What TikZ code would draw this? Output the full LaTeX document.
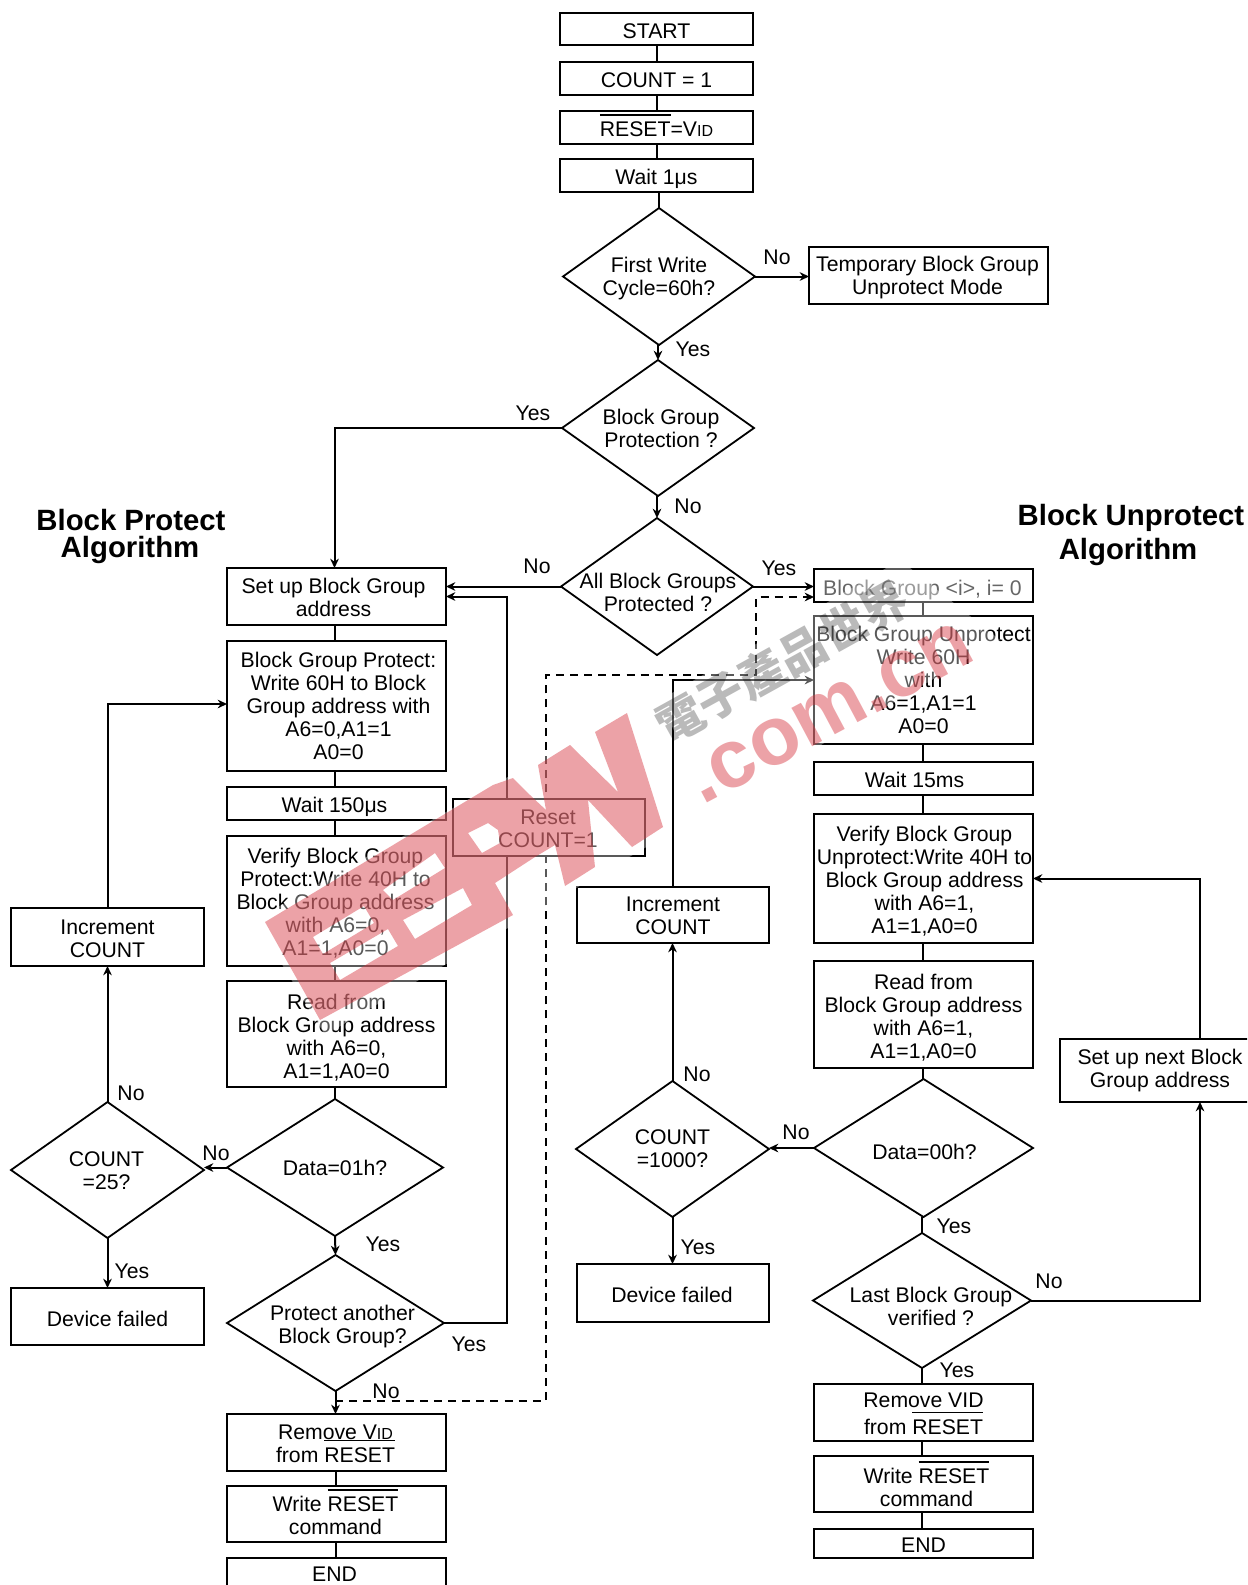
\documentclass[tikz,border=0pt]{standalone}
\usepackage{fontspec}
\setmainfont{Liberation Sans}
\newfontfamily\cjkwm{Noto Sans CJK TC}
\usetikzlibrary{arrows.meta,shapes.geometric}
\definecolor{wmred}{RGB}{215,50,60}
\newcommand\tx[3]{\makebox[0pt][c]{\hspace*{#1\dimexpr1.5pt\relax}\smash{\raisebox{\dimexpr-.44em-#2\dimexpr.75pt\relax\relax}{\begin{tabular}[c]{@{}c@{}}#3\end{tabular}}}}}
\newsavebox\olbox
\newcommand\ol[1]{\sbox\olbox{#1}\smash{\rlap{\rule[15.6pt]{\wd\olbox}{1.1pt}}}#1}
\newcommand\smid{{\fontsize{12}{12}\selectfont ID}}
\newcommand\bx[9][]{\node[boxs,minimum width={(#5-#3)*.75pt},minimum height={(#6-#4)*.75pt},#1] (#2) at ({(#3+#5)/2},{(#4+#6)/2}) {\tx{#7}{#8}{#9}};}
\newcommand\dm[8]{\node[dias,minimum width={(#4-#2)*.75pt},minimum height={(#5-#3)*.75pt}] (#1) at ({(#2+#4)/2},{(#3+#5)/2}) {\tx{#6}{#7}{#8}};}
\tikzset{
  basef/.style={font=\fontsize{15.9}{17.25}\selectfont},
  boxs/.style={basef,draw=black,line width=1.6pt,rectangle,inner sep=0pt,outer sep=0pt,fill=white},
  dias/.style={basef,draw=black,line width=1.35pt,diamond,aspect=1.4,inner sep=0pt,outer sep=0pt},
  lab/.style={basef,inner sep=0pt},
  ttl/.style={font=\fontsize{22}{24}\selectfont\bfseries,inner sep=0pt},
  conn/.style={draw=black,line width=1.5pt},
  arr/.style={conn,-{Stealth[length=7pt,width=6.5pt]}},
  dsh/.style={arr,dash pattern=on 6pt off 4.6pt},
}
\begin{document}
\begin{tikzpicture}[x=.75pt,y=-.75pt]
\path[use as bounding box] (0,0) rectangle (1247,1585);
\clip (0,0) rectangle (1247,1585);
\fill[white] (0,0) rectangle (1247,1585);
% centre column
\bx{start}{560}{13}{753}{45}{0}{1}{START}
\bx{cnt}{560}{62}{753}{95}{0}{1}{COUNT = 1}
\bx{rst}{560}{111}{753}{144}{0}{1}{\ol{RESET}=V\smid}
\bx{waita}{560}{159}{753}{192}{0}{1}{Wait 1μs}
\dm{da}{563}{208}{755}{345}{0}{-1}{First Write\\Cycle=60h?}
\bx{temp}{809}{247}{1048}{304}{-1}{-1}{Temporary Block Group\\Unprotect Mode}
\dm{db}{562}{360}{754}{496}{3}{0}{Block Group\\Protection ?}
\dm{dc}{561}{518}{753}{655}{1}{5}{All Block Groups\\Protected ?}
% left column
\bx{setup}{227}{568}{446}{625}{-3}{0}{Set up Block Group\\address}
\bx{bgp}{227}{641}{446}{771}{2}{-1}{Block Group Protect:\\Write 60H to Block\\Group address with\\A6=0,A1=1\\A0=0}
\bx{waitb}{227}{787}{446}{820}{-2}{1}{Wait 150μs}
\bx{vfy}{227}{836}{446}{966}{-1}{0}{Verify Block Group\\Protect:Write 40H to\\Block Group address\\with A6=0,\\A1=1,A0=0}
\bx{rd}{227}{981}{446}{1087}{0}{2}{Read from\\Block Group address\\with A6=0,\\A1=1,A0=0}
\dm{dd}{227}{1099}{443}{1236}{0}{0}{Data=01h?}
\dm{de}{11}{1102}{204}{1238}{-1}{0}{COUNT\\=25?}
\bx{incl}{11}{908}{204}{966}{0}{1}{Increment\\COUNT}
\bx{devl}{11}{1288}{204}{1345}{0}{2}{Device failed}
\dm{pa}{227}{1255}{444}{1391}{7}{1}{Protect another\\Block Group?}
\bx{rml}{227}{1414}{446}{1471}{-1}{0}{Remove V\smid\\from \ol{RESET}}
\bx{wrl}{227}{1486}{446}{1542}{-1}{1}{Write \ol{RESET}\\command}
\bx{endl}{227}{1558}{446}{1600}{-2}{-6}{END}
% right column
\bx{bgz}{814}{569}{1033}{602}{-1}{2}{\textcolor{black!60}{Block Group <i>, i= 0}}
\bx{bgu}{814}{616}{1033}{744}{0}{-1}{Block Group Unprotect\\Write 60H\\with\\A6=1,A1=1\\A0=0}
\bx{waitc}{814}{762}{1033}{795}{-9}{1}{Wait 15ms}
\bx{vfr}{814}{814}{1033}{943}{1}{1}{Verify Block Group\\Unprotect:Write 40H to\\Block Group address\\with A6=1,\\A1=1,A0=0}
\bx{rdr}{814}{961}{1033}{1068}{0}{1}{Read from\\Block Group address\\with A6=1,\\A1=1,A0=0}
\dm{df}{814}{1079}{1033}{1217}{1}{3}{Data=00h?}
\dm{dg}{576}{1081}{769}{1217}{0}{-1}{COUNT\\=1000?}
\bx{incr}{577}{887}{769}{943}{0}{0}{Increment\\COUNT}
\bx{devr}{577}{1264}{769}{1322}{-1}{1}{Device failed}
\dm{dh}{813}{1233}{1031}{1368}{9}{5}{Last Block Group\\verified ?}
\bx{rmr}{814}{1384}{1033}{1441}{0}{0}{Remove VID\\[3pt]from \ol{RESET}}
\bx{wrr}{814}{1456}{1033}{1512}{3}{3}{Write \ol{RESET}\\command}
\bx{endr}{814}{1529}{1033}{1558}{0}{1}{END}
\bx{snx}{1060}{1039}{1252}{1102}{4}{-3}{Set up next Block\\Group address}
% connectors
\draw[conn] (start) -- (cnt);
\draw[conn] (cnt) -- (rst);
\draw[conn] (rst) -- (waita);
\draw[conn] (waita.south -| da.north) -- (da.north);
\draw[arr] (db.north |- da.south) -- (db.north);
\draw[arr] (dc.north |- db.south) -- (dc.north);
\draw[arr] (da.east) -- (da.east -| temp.west);
\draw[arr] (db.west) -| ([xshift=-1.5pt]setup.north);
\draw[arr] (dc.west) -- (dc.west -| setup.east);
\draw[arr] (dc.east) -- (dc.east -| bgz.west);
\foreach \a/\b in {setup/bgp,bgp/waitb,waitb/vfy,vfy/rd,rd/dd}
  \draw[conn] ([xshift=-1.5pt]\a.south) -- ([xshift=-1.5pt]\a.south |- \b.north);
\draw[arr] (dd.south) -- (pa.north);
\draw[arr] (dd.west) -- (dd.west -| de.east);
\draw[arr] (de.north) -- (incl.south);
\draw[arr] (de.south) -- (devl.north);
\draw[arr] (incl.north) |- ([yshift=1.5pt]bgp.west);
\draw[arr] (pa.south) -- (pa.south |- rml.north);
\draw[conn] (pa.south |- rml.south) -- (pa.south |- wrl.north);
\draw[conn] (pa.south |- wrl.south) -- (pa.south |- endl.north);
\coordinate (lp) at (507,1323);
\draw[arr] (pa.east) -- (lp) |- (setup.east);
\coordinate (dja) at (335,1401);
\coordinate (djb) at (546,1401);
\coordinate (djc) at (546,675);
\coordinate (djd) at (756,675);
\coordinate (dje) at (756,597);
\draw[dsh] (dja) -- (djb) -- (djc) -- (djd) -- (dje) -- (dje -| bgz.west);
\foreach \a/\b in {bgz/bgu,bgu/waitc,waitc/vfr,vfr/rdr,rdr/df}
  \draw[conn] ([xshift=-.7pt]\a.south) -- ([xshift=-.7pt]\a.south |- \b.north);
\draw[conn] (dh.north |- df.south) -- (dh.north);
\draw[arr] (df.west) -- (df.west -| dg.east);
\draw[arr] (dg.north) -- (dg.north |- incr.south);
\draw[arr] (dg.south) -- (dg.south |- devr.north);
\draw[arr] (incr.north -| dg.north) |- (bgu.west);
\draw[conn] (dh.south) -- (dh.south |- rmr.north);
\draw[conn] (dh.south |- rmr.south) -- (dh.south |- wrr.north);
\draw[conn] (dh.south |- wrr.south) -- (dh.south |- endr.north);
\draw[arr] (dh.east) -| ([xshift=33pt]snx.south);
\draw[arr] ([xshift=33pt]snx.north) |- (vfr.east);
\bx{rsb}{453}{799}{645}{856}{-1}{0}{Reset\\COUNT=1}
% labels
\node[lab] (la) at (777,257) {No};
\node[lab] (lb) at (693,349) {Yes};
\node[lab] (lc) at (533,413) {Yes};
\node[lab] (ld) at (688,506) {No};
\node[lab] (le) at (537,566) {No};
\node[lab] (lf) at (779,568) {Yes};
\node[lab] (lg) at (131,1093) {No};
\node[lab] (lh) at (216,1153) {No};
\node[lab] (li) at (383,1244) {Yes};
\node[lab] (lj) at (132,1271) {Yes};
\node[lab] (lk) at (469,1344) {Yes};
\node[lab] (ll) at (386,1391) {No};
\node[lab] (lm) at (697,1074) {No};
\node[lab] (ln) at (796,1132) {No};
\node[lab] (lo) at (698,1247) {Yes};
\node[lab] (lp2) at (954,1226) {Yes};
\node[lab] (lq) at (1049,1281) {No};
\node[lab] (lr) at (957,1370) {Yes};
\node[ttl] (ta) at (131,520) {Block Protect};
\node[ttl] (tb) at (130,550) {Algorithm};
\node[ttl] (tc) at (1131,518) {Block Unprotect};
\node[ttl] (td) at (1128,552) {Algorithm};
% watermark
\fill[white,fill opacity=.35] (255,920) -- (635,705) -- (672,832) -- (325,1035) -- cycle;
\fill[white,fill opacity=.35] (660,700) -- (900,560) -- (1000,640) -- (710,810) -- cycle;
\node[rotate=29,text=black,text opacity=.27,font=\cjkwm\bfseries\fontsize{35}{35}\selectfont,inner sep=0pt] (wmc) at (782,662) {電子產品世界};
\fill[wmred,fill opacity=.45,even odd rule]
  (265,922) -- (493,785) -- (513,778) -- (530,795) -- (546,810) -- (538,765) -- (570,745) -- (618,792) -- (595,732) -- (627,713)
  -- (663,827) -- (632,847) -- (588,800) -- (595,867) -- (565,886) -- (555,845) -- (535,857) -- (495,883) -- (513,915) -- (320,1020) -- cycle
  (313,937) -- (364,906) -- (374,923) -- (323,954) -- cycle
  (330,963) -- (388,929) -- (398,946) -- (340,980) -- cycle
  (383,890) -- (435,853) -- (445,868) -- (393,900) -- cycle
  (403,920) -- (463,888) -- (472,905) -- (415,939) -- cycle
  (468,833) -- (488,823) -- (498,830) -- (500,843) -- (482,853) -- cycle;
\node[rotate=28,anchor=base west,text=wmred,text opacity=.45,font=\bfseries\fontsize{62}{62}\selectfont,inner sep=0pt] (wmd) at (702,806) {.com.cn};
\end{tikzpicture}
\end{document}
